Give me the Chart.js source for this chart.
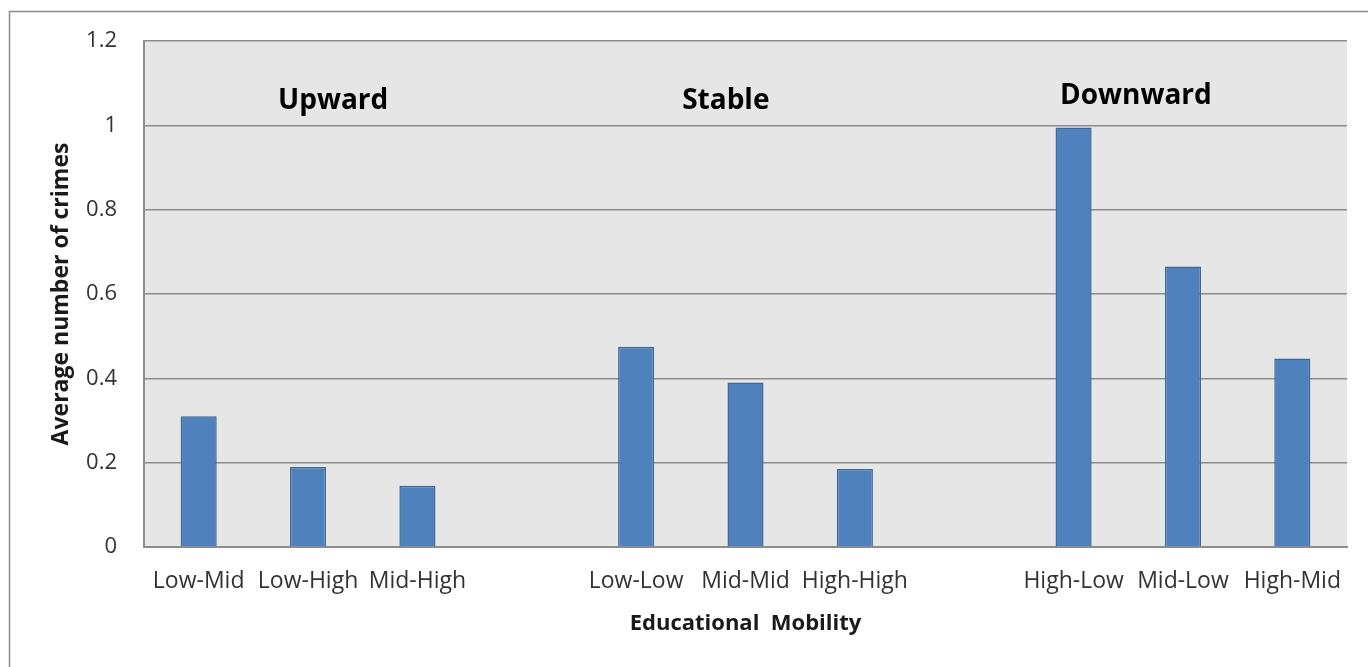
<!DOCTYPE html>
<html>
<head>
<meta charset="utf-8">
<script src="https://cdn.jsdelivr.net/npm/chart.js@4/dist/chart.umd.min.js"></script>
<style>
  html, body { margin: 0; padding: 0; background: #ffffff; }
  #wrap { position: relative; width: 1368px; height: 667px; }
  canvas { display: block; }
</style>
</head>
<body>
<div id="wrap"><canvas id="c" width="1368" height="667"></canvas></div>
<script>
// ---- data ----
const categories = ['Low-Mid', 'Low-High', 'Mid-High', '', 'Low-Low', 'Mid-Mid', 'High-High', '', 'High-Low', 'Mid-Low', 'High-Mid'];
const averageCrimes = [0.31, 0.19, 0.145, null, 0.475, 0.39, 0.185, null, 0.995, 0.665, 0.447];
const yTickLabels = ['0', '0.2', '0.4', '0.6', '0.8', '1', '1.2'];
const groupNames = ['Upward', 'Stable', 'Downward'];
const groupAnchorCategory = [1.23, 4.82, 8.57];
const groupAnchorValue = [1.038, 1.038, 1.05];
const xTitle = 'Educational  Mobility';
const yTitle = 'Average number of crimes';

const FONT = "'Open Sans', 'DejaVu Sans', sans-serif";

const frameAndBackground = {
  id: 'frameAndBackground',
  beforeDraw(chart) {
    const { ctx, chartArea } = chart;
    ctx.save();
    ctx.fillStyle = '#ffffff';
    ctx.fillRect(0, 0, chart.width, chart.height);
    ctx.strokeStyle = '#8c8c8c';
    ctx.lineWidth = 1.5;
    ctx.strokeRect(9.5, 11.5, chart.width + 20, chart.height + 20);
    ctx.fillStyle = '#e6e6e6';
    ctx.fillRect(chartArea.left, chartArea.top, chartArea.right - chartArea.left, chartArea.bottom - chartArea.top);
    ctx.restore();
  }
};

const groupLabels = {
  id: 'groupLabels',
  afterDatasetsDraw(chart) {
    const { ctx } = chart;
    const xs = chart.scales.x, ys = chart.scales.y;
    ctx.save();
    ctx.font = "bold 28px " + FONT;
    ctx.fillStyle = '#000000';
    ctx.textAlign = 'center';
    ctx.textBaseline = 'alphabetic';
    groupNames.forEach((name, i) => {
      ctx.fillText(name, xs.getPixelForValue(groupAnchorCategory[i]), ys.getPixelForValue(groupAnchorValue[i]));
    });
    ctx.restore();
  }
};

new Chart(document.getElementById('c'), {
  type: 'bar',
  data: {
    labels: categories,
    datasets: [{
      data: averageCrimes,
      backgroundColor: '#4f81bd',
      borderColor: '#3c6796',
      borderWidth: 1.5,
      barPercentage: 0.33,
      categoryPercentage: 1.0
    }]
  },
  options: {
    responsive: false,
    animation: false,
    devicePixelRatio: 1,
    layout: { padding: { top: 41, right: 21, left: 0, bottom: 0 } },
    plugins: {
      legend: { display: false },
      tooltip: { enabled: false },
      title: { display: false }
    },
    scales: {
      x: {
        grid: { display: false, drawTicks: false },
        border: { display: true, color: '#8c8c8c', width: 2 },
        ticks: {
          color: '#333333',
          font: { family: FONT, size: 23 },
          padding: 21,
          maxRotation: 0,
          autoSkip: false
        },
        title: {
          display: true,
          text: xTitle,
          color: '#1a1a1a',
          font: { family: FONT, size: 22, weight: 'bold' },
          padding: { top: 0, bottom: 30 }
        },
        afterFit(scale) { scale.height = 120; }
      },
      y: {
        min: 0,
        max: 1.2,
        grid: { color: '#8c8c8c', lineWidth: 1.5, drawTicks: false },
        border: { display: true, color: '#8c8c8c', width: 2 },
        ticks: {
          stepSize: 0.2,
          color: '#333333',
          font: { family: FONT, size: 22 },
          padding: 27,
          callback: (v, i) => yTickLabels[i]
        },
        title: {
          display: true,
          text: yTitle,
          color: '#1a1a1a',
          font: { family: FONT, size: 23, weight: 'bold' },
          padding: { top: 48, bottom: 0 }
        },
        afterFit(scale) { scale.width = 144; }
      }
    }
  },
  plugins: [frameAndBackground, groupLabels]
});
</script>
</body>
</html>
